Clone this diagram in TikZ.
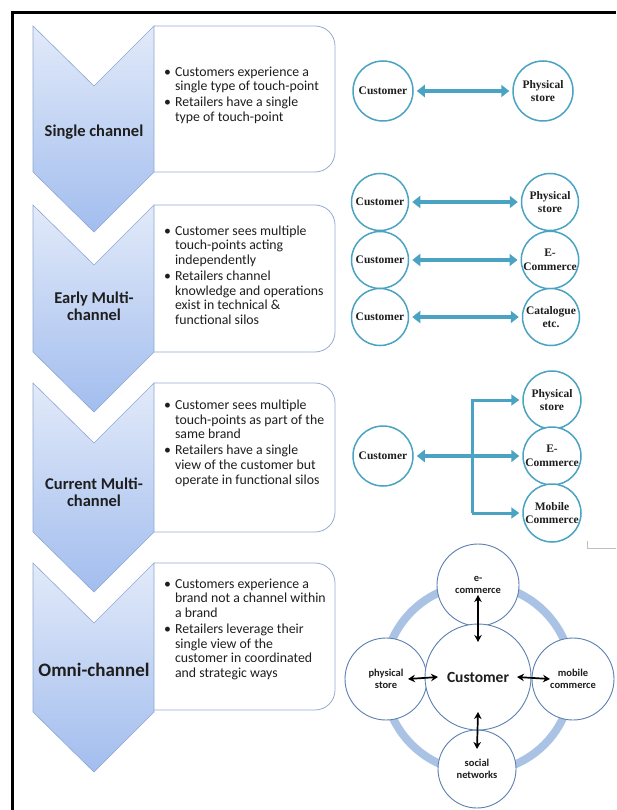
\documentclass[tikz,border=0pt]{standalone}
\usepackage{fontspec}
\setmainfont{Carlito}
\newfontfamily\tnr{Liberation Serif}
\usetikzlibrary{arrows.meta}
\definecolor{chevtop}{HTML}{E2EAF9}
\definecolor{chevbot}{HTML}{A2BDEE}
\definecolor{chevline}{HTML}{8EA8D4}
\definecolor{boxline}{HTML}{95ACD2}
\definecolor{tealc}{HTML}{4AA3C2}
\definecolor{ringc}{HTML}{AAC2E4}
\definecolor{ringline}{HTML}{5B80B0}
\definecolor{txt}{HTML}{1E1E1E}
\newcommand{\chev}[2]{\draw[chevstyle] (33,#1) -- (94,{#1+60}) -- (154,#1) -- (154,#2) -- (94,{#2+60}) -- (33,#2) -- cycle;}
\newcommand{\rbox}[2]{\draw[boxstyle] (154,#1) -- (315,#1) arc[start angle=90,end angle=0,radius=20pt] -- (335,{#2-20}) arc[start angle=0,end angle=-90,radius=20pt] -- (154,#2);}
\newcommand{\blist}[1]{\fontsize{13.8}{14.6}\selectfont\begin{tabular}{@{}l@{\hspace{4pt}}l@{}}#1\end{tabular}}
\begin{document}
\begin{tikzpicture}[x=1pt,y=-1pt,
  chevstyle/.style={top color=chevtop,bottom color=chevbot,draw=chevline,line width=0.6pt},
  boxstyle/.style={draw=boxline,line width=0.8pt,fill=white},
  chevlabel/.style={align=center,font=\bfseries\fontsize{16.5}{17}\selectfont,text=txt,inner sep=0},
  btext/.style={anchor=west,inner sep=0,text=txt},
  tcirc/.style={circle,draw=tealc,line width=1.5pt,fill=white,minimum size=60pt,inner sep=0,align=center,font=\tnr\bfseries\fontsize{11.5}{13.5}\selectfont,text=txt},
  tarrow/.style={draw=tealc,line width=3.2pt,{Triangle[length=8pt,width=12pt]}-{Triangle[length=8pt,width=12pt]},shorten <=3pt,shorten >=3pt},
  tline/.style={draw=tealc,line width=3pt},
  ocirc/.style={circle,draw=ringline,line width=0.9pt,fill=white,minimum size=82pt,inner sep=0,align=center,font=\bfseries\fontsize{10.5}{12}\selectfont,text=txt},
  barrow/.style={draw=black,line width=1.7pt,{Stealth[length=7pt,width=7.5pt]}-{Stealth[length=7pt,width=7.5pt]}}
]
\useasboundingbox (0,0) rectangle (616,810);
\fill[white] (0,0) rectangle (616,810);
% frame
\draw[line width=3pt] (12,810) -- (12,13) -- (616,13);
% boxes and chevrons
\rbox{26}{172}
\rbox{205}{352}
\rbox{383}{532}
\rbox{563}{710}
\chev{26}{172}
\chev{205}{352}
\chev{383}{532}
\chev{563}{712}
\node[chevlabel] (l1) at (94,132) {Single channel};
\node[chevlabel] (l2) at (94,306) {Early Multi-\\channel};
\node[chevlabel] (l3) at (94,492) {Current Multi-\\channel};
\node[chevlabel,font=\bfseries\fontsize{19}{20}\selectfont] (l4) at (94,670) {Omni-channel};
% bullet texts
\node[btext] (t1) at (164,96) {\blist{\textbullet & Customers experience a\\ & single type of touch-point\\[1.5pt] \textbullet & Retailers have a single\\ & type of touch-point}};
\node[btext] (t2) at (164,277) {\blist{\textbullet & Customer sees multiple\\ & touch-points acting\\ & independently\\[1.5pt] \textbullet & Retailers channel\\ & knowledge and operations\\ & exist in technical \&\\ & functional silos}};
\node[btext] (t3) at (164,444) {\blist{\textbullet & Customer sees multiple\\ & touch-points as part of the\\ & same brand\\[1.5pt] \textbullet & Retailers have a single\\ & view of the customer but\\ & operate in functional silos}};
\node[btext] (t4) at (164,630) {\blist{\textbullet & Customers experience a\\ & brand not a channel within\\ & a brand\\[1.5pt] \textbullet & Retailers leverage their\\ & single view of the\\ & customer in coordinated\\ & and strategic ways}};
% section 1
\node[tcirc] (c1) at (383,91) {Customer};
\node[tcirc] (p1) at (543,91) {Physical\\store};
\draw[tarrow] (c1) -- (p1);
% section 2
\node[tcirc,minimum size=57pt] (c2a) at (380,202) {Customer};
\node[tcirc,minimum size=57pt] (p2a) at (550,202) {Physical\\store};
\node[tcirc,minimum size=57pt] (c2b) at (380,260) {Customer};
\node[tcirc,minimum size=57pt] (e2b) at (550,260) {E-\\Commerce};
\node[tcirc,minimum size=57pt] (c2c) at (380,317) {Customer};
\node[tcirc,minimum size=57pt] (k2c) at (551,317) {Catalogue\\etc.};
\draw[tarrow] (c2a) -- (p2a);
\draw[tarrow] (c2b) -- (e2b);
\draw[tarrow] (c2c) -- (k2c);
% section 3
\node[tcirc] (c3) at (383,456) {Customer};
\node[tcirc,minimum size=58pt] (p3) at (552,400) {Physical\\store};
\node[tcirc,minimum size=58pt] (e3) at (552,456) {E-\\Commerce};
\node[tcirc,minimum size=58pt] (m3) at (552,513) {Mobile\\Commerce};
\coordinate (jt) at (472,400);
\coordinate (jb) at (472,513);
\draw[tarrow,line width=3.6pt] (c3) -- (e3);
\draw[tline,line join=miter,-{Triangle[length=8pt,width=11pt]},shorten >=3pt] (jb) -- (jt) -- (p3);
\draw[tline,-{Triangle[length=8pt,width=11pt]},shorten >=3pt] (jb) -- (m3);
\draw[black!25,line width=1pt] (587,541) -- (587,548) -- (616,548);
% section 4
\draw[ringc,line width=8pt] (478,678) circle[radius=94pt];
\node[ocirc] (ec) at (478,585) {e-\\commerce};
\node[ocirc] (ps) at (386,679) {physical\\store};
\node[ocirc] (mb) at (573,679) {mobile\\commerce};
\node[ocirc,minimum size=78pt] (sn) at (477,769) {social\\networks};
\node[ocirc,minimum size=106pt,font=\bfseries\fontsize{15.5}{17}\selectfont] (cu) at (478,677) {Customer};
\draw[barrow] ([yshift=-10pt]ec.center) -- ([yshift=35pt]cu.center);
\draw[barrow] ([xshift=22pt]ps.center) -- ([xshift=-40pt]cu.center);
\draw[barrow] ([xshift=39pt]cu.center) -- ([xshift=-23pt]mb.center);
\draw[barrow] ([yshift=-35pt]cu.center) -- ([yshift=20pt]sn.center);
\end{tikzpicture}
\end{document}
